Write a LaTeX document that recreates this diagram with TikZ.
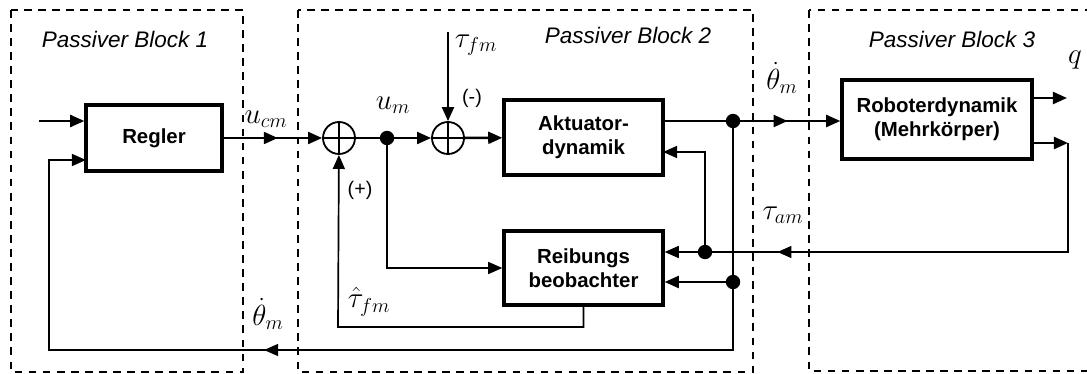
\documentclass[tikz,border=0pt]{standalone}
\usepackage{fontspec}
\setsansfont{Liberation Sans}
\usetikzlibrary{arrows.meta,decorations.markings}

\begin{document}
\begin{tikzpicture}[x=0.025cm, y=-0.025cm,
    box/.style={draw, line width=2.4pt, minimum width=3.975cm, minimum height=1.875cm,
                font=\sffamily\bfseries\fontsize{14.5}{17}\selectfont, align=center, inner sep=2pt},
    sumnode/.style={circle, draw, line width=1.3pt, minimum size=0.8cm, inner sep=0pt,
                path picture={\draw[line width=0.8pt]
                  (path picture bounding box.north) -- (path picture bounding box.south)
                  (path picture bounding box.west) -- (path picture bounding box.east);}},
    dot/.style={circle, fill, inner sep=0pt, minimum size=0.36cm},
    wire/.style={line width=1.7pt},
    fb/.style={line width=1.2pt},
    sig/.style={-{Triangle[length=10pt,width=8.5pt]}},
    midarrow/.style={postaction={decorate}, decoration={markings,
                mark=at position #1 with {\arrow{Triangle[length=10pt,width=8.5pt]}}}},
    blockframe/.style={dash pattern=on 5.5pt off 4.5pt, line width=1.6pt},
    blocklabel/.style={font=\sffamily\itshape\fontsize{16}{19}\selectfont},
    siglabel/.style={font=\fontsize{22}{24}\selectfont, inner sep=0pt},
    signlabel/.style={font=\sffamily\fontsize{14}{16}\selectfont, inner sep=0pt}
  ]
    \clip (0,0) rectangle (1087,374);
    % Passive blocks
    \draw[blockframe] (11,10) rectangle (243,372);
    \draw[blockframe] (298,10) rectangle (753,372);
    \draw[blockframe] (809,10) rectangle (1110,371);
    \node[blocklabel] (lblblock1) at (125,39) {Passiver Block 1};
    \node[blocklabel] (lblblock2) at (628,35) {Passiver Block 2};
    \node[blocklabel] (lblblock3) at (952,39) {Passiver Block 3};
    % Blocks
    \node[box, minimum width=3.4cm, minimum height=1.65cm] (regler) at (154,138) {Regler};
    \node[box] (akt) at (583.5,137.5) {Aktuator-\\dynamik};
    \node[box, minimum height=1.85cm] (reib) at (583.5,268) {Reibungs\\beobachter};
    \node[box, minimum width=4.75cm, minimum height=1.975cm] (rob) at (937,119.5) {Roboterdynamik\\(Mehrkörper)};
    % Summing points and branch dots
    \node[sumnode] (sum1) at (339,138) {};
    \node[sumnode] (sum2) at (448,138) {};
    \node[dot] (um) at (387,138) {};
    \node[dot] (d1) at (733,121) {};
    \node[dot] (d2) at (705,252) {};
    \node[dot] (d3) at (733,282) {};
    % Free ends and corners
    \coordinate (refin) at (39,121);
    \coordinate (taufm) at (448,32);
    \coordinate (qout) at (1067,98);
    \coordinate (tturn) at (1068,143);
    \coordinate (aktin) at (663,152);
    \coordinate (fbl) at (49,350);
    \coordinate (regin) at (86,160);
    \coordinate (thc) at (338,327);
    % Forward path
    \draw[wire, sig] (refin) -- (regler.west |- refin);
    \draw[wire, sig, midarrow=0.55] (regler) -- (sum1);
    \draw[wire] (sum1) -- (um);
    \draw[wire, sig] (um) -- (sum2);
    \draw[wire, sig] (taufm) -- (sum2);
    \draw[wire, sig] (sum2) -- (akt);
    \draw[wire, sig, midarrow=0.7] (akt.east |- d1) -- (rob.west |- d1);
    \draw[wire, sig] (rob.east |- qout) -- (qout);
    \draw[wire, sig] (rob.east |- tturn) -- (tturn);
    % Feedback paths
    \draw[fb, sig, midarrow=0.78] (tturn) |- (reib.east |- d2);
    \draw[fb, sig] (d2) |- (aktin);
    \draw[fb] (d1) -- (d3);
    \draw[wire, sig] (d3) -- (reib.east |- d3);
    \draw[fb, sig, midarrow=0.545] (d3) |- (fbl) |- (regin);
    \draw[fb, sig] (um) |- (reib.west);
    \draw[fb, sig] (reib.south) |- (thc) -- (sum1);
    % Signal labels
    \node[siglabel] (lblucm) at (266,119) {$u_{cm}$};
    \node[siglabel] (lblum) at (393,105) {$u_m$};
    \node[siglabel] (lbltaufm) at (476,45) {$\tau_{fm}$};
    \node[signlabel] (lblminus) at (472,98) {(-)};
    \node[signlabel] (lblplus) at (360,190) {(+)};
    \node[siglabel] (lblthetatop) at (782,78) {$\dot{\theta}_m$};
    \node[siglabel] (lblq) at (1075,60) {$q$};
    \node[siglabel] (lbltauam) at (783,215) {$\tau_{am}$};
    \node[siglabel] (lbltauhat) at (369,302) {$\hat{\tau}_{fm}$};
    \node[siglabel] (lblthetabot) at (268,314) {$\dot{\theta}_m$};
  \end{tikzpicture}
\end{document}
